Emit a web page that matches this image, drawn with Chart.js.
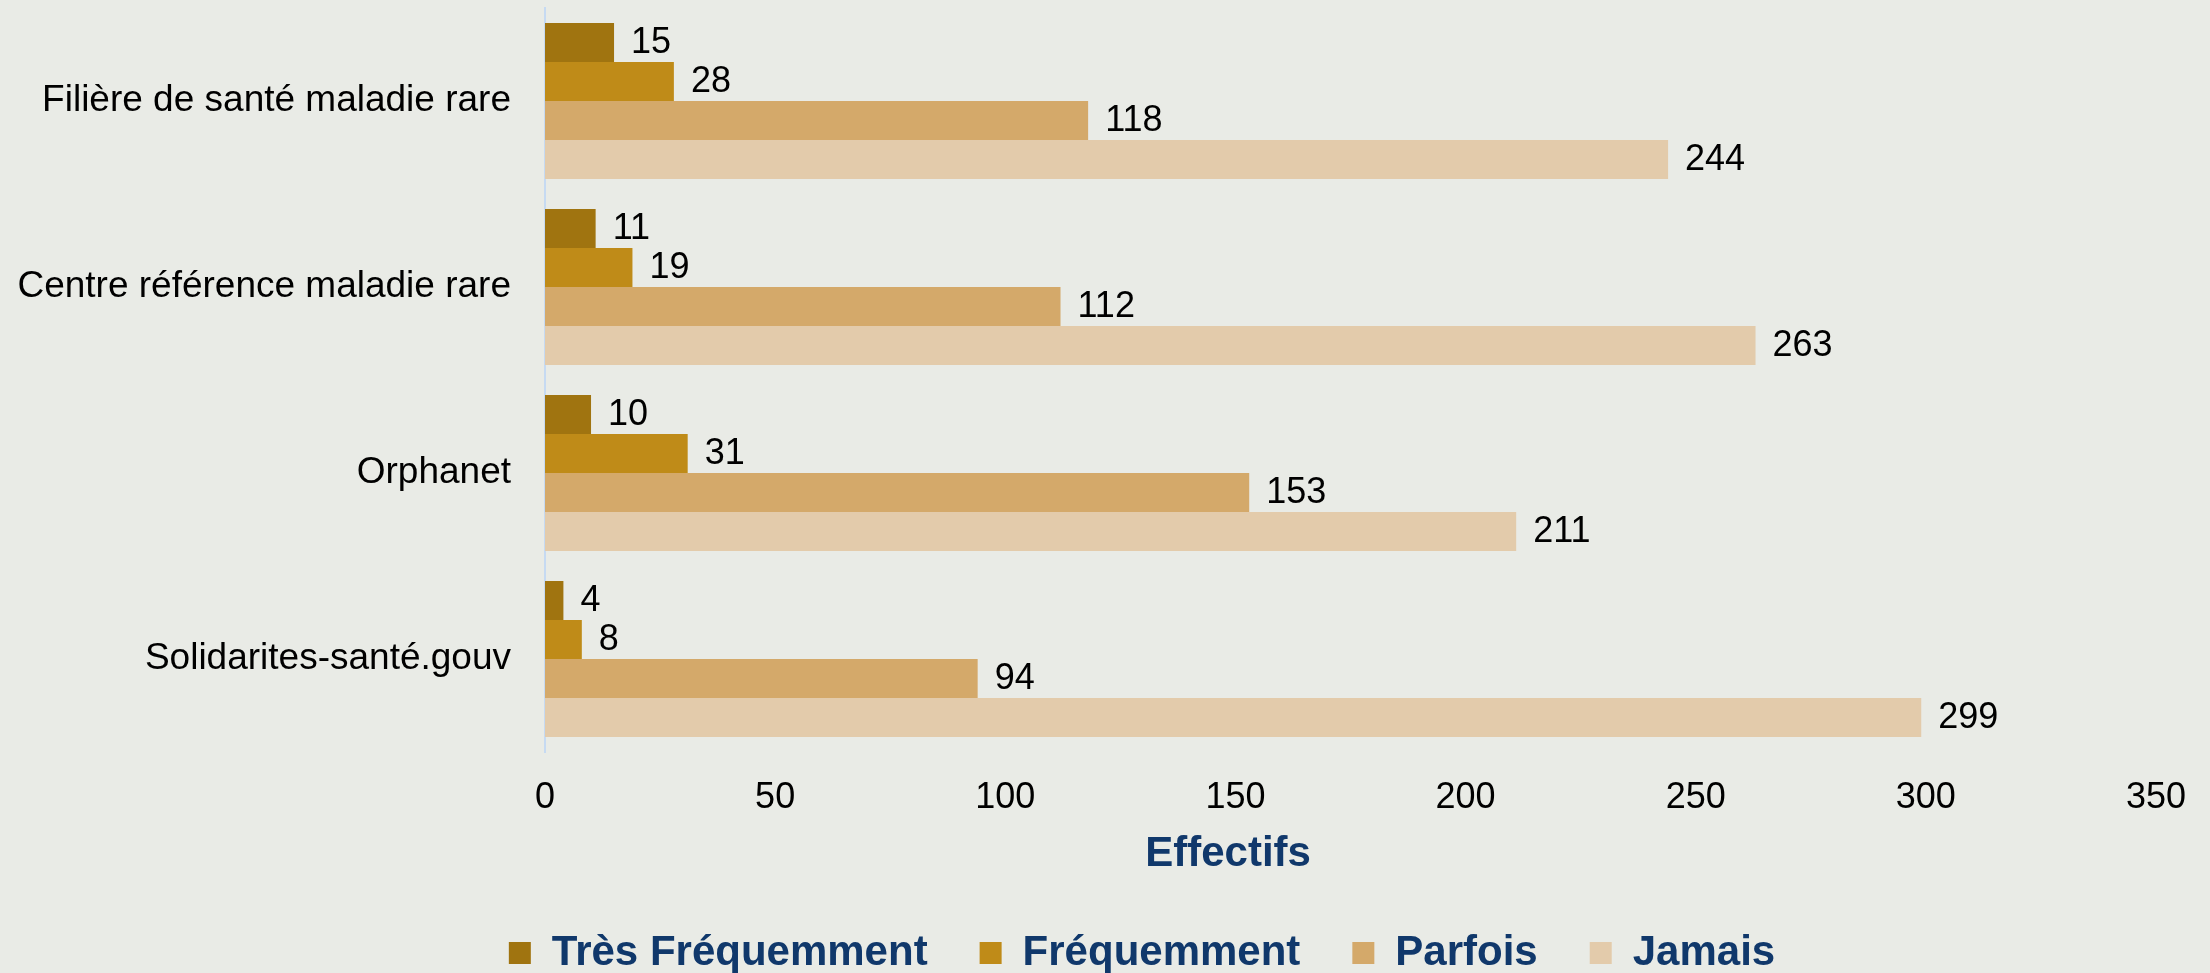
<!DOCTYPE html>
<html>
<head>
<meta charset="utf-8">
<script src="https://cdn.jsdelivr.net/npm/chart.js@4"></script>
<style>
  body { margin: 0; background: #e9ebe6; }
  canvas { display: block; }
</style>
</head>
<body>
<canvas id="chart" width="2210" height="973"></canvas>
<script>
const categories = ['Filière de santé maladie rare', 'Centre référence maladie rare', 'Orphanet', 'Solidarites-santé.gouv'];
const tresFrequemment = [15, 11, 10, 4];
const frequemment = [28, 19, 31, 8];
const parfois = [118, 112, 153, 94];
const jamais = [244, 263, 211, 299];
const xTicks = [0, 50, 100, 150, 200, 250, 300, 350];

const font = 'Liberation Sans, Arial, sans-serif';
const navy = '#10386b';

// value labels at the end of each bar
const valueLabels = {
    id: 'valueLabels',
    afterDatasetsDraw(chart) {
        const ctx = chart.ctx;
        ctx.save();
        ctx.font = '36px ' + font;
        ctx.fillStyle = '#000';
        ctx.textBaseline = 'middle';
        ctx.textAlign = 'left';
        chart.data.datasets.forEach((ds, i) => {
            chart.getDatasetMeta(i).data.forEach((bar, j) => {
                ctx.fillText(ds.data[j], bar.x + 17, bar.y + 1);
            });
        });
        ctx.restore();
    }
};

// axis title, placed left of the scale centre like the original
const axisTitle = {
    id: 'axisTitle',
    afterDraw(chart) {
        const x = chart.scales.x;
        const ctx = chart.ctx;
        ctx.save();
        ctx.font = 'bold 42px ' + font;
        ctx.fillStyle = navy;
        ctx.textAlign = 'center';
        ctx.textBaseline = 'middle';
        ctx.fillText('Effectifs', x.left + x.width * 0.424, x.top + 102);
        ctx.restore();
    }
};

// legend in the original sits a bit right of the page centre and lower
const legendShift = {
    id: 'legendShift',
    afterLayout(chart) {
        chart.legend.left += 62;
        chart.legend.right += 62;
        chart.legend.top += 11;
    }
};

const chart = document.querySelector('#chart').getContext('2d');
new Chart(chart, {
    type: 'bar',
    data: {
        labels: categories,
        datasets: [
        { label: 'Très Fréquemment', data: tresFrequemment, backgroundColor: '#a07410' },
        { label: 'Fréquemment', data: frequemment, backgroundColor: '#bf8b18' },
        { label: 'Parfois', data: parfois, backgroundColor: '#d4a96a' },
        { label: 'Jamais', data: jamais, backgroundColor: '#e3cbab' }
        ]
    },
    options: {
        indexAxis: 'y',
        responsive: false,
        animation: false,
        categoryPercentage: 0.839,
        barPercentage: 1,
        layout: { padding: { left: 0, right: 50, top: 8, bottom: 0 } },
        scales: {
            x: {
                min: 0,
                max: 350,
                afterBuildTicks: (s) => { s.ticks = xTicks.map(v => ({ value: v })); },
                afterFit: (s) => { s.height = 117; },
                grid: { display: false, drawTicks: false },
                border: { display: false },
                ticks: { color: '#000', font: { family: font, size: 36 }, padding: 24 }
            },
            y: {
                afterFit: (s) => { s.width = 545; },
                grid: { drawOnChartArea: false, drawTicks: true, tickLength: 34, color: 'rgba(0,0,0,0)' },
                border: { color: '#c6daf2', width: 2 },
                ticks: { color: '#000', font: { family: font, size: 37, lineHeight: 0.4 }, padding: 0 }
            }
        },
        plugins: {
            legend: {
                position: 'bottom',
                labels: {
                    color: navy,
                    font: { family: font, size: 42, weight: 'bold' },
                    boxWidth: 22,
                    boxHeight: 22,
                    padding: 52
                }
            },
            tooltip: { enabled: false }
        }
    },
    plugins: [valueLabels, axisTitle, legendShift]
})
</script>
</body>
</html>
